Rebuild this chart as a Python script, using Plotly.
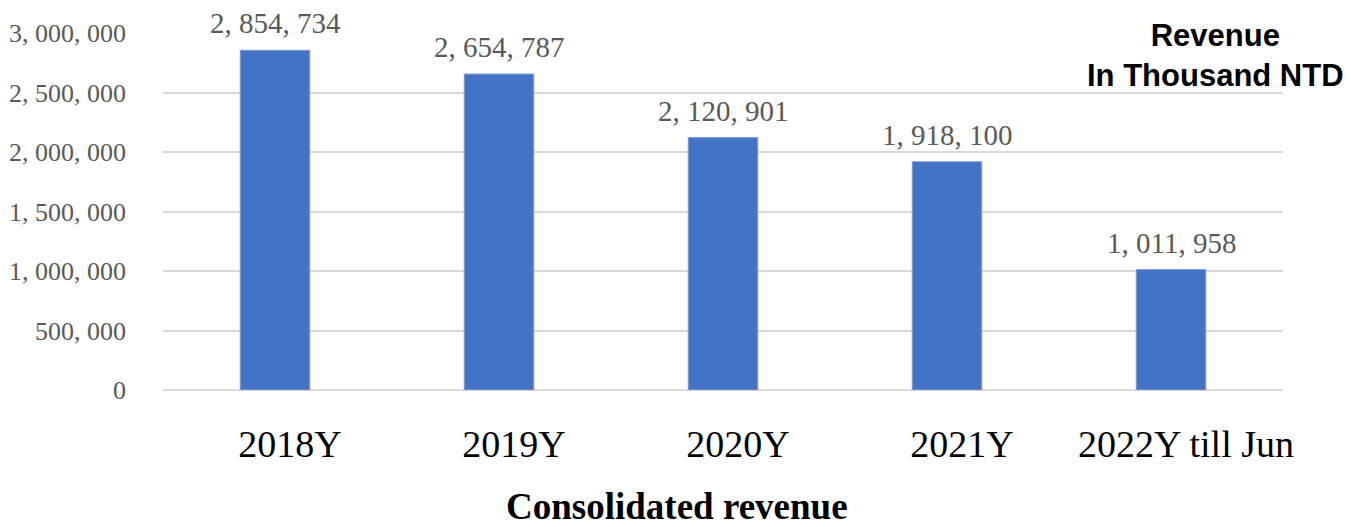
import plotly.graph_objects as go

categories = ["2018Y", "2019Y", "2020Y", "2021Y", "2022Y till Jun"]
revenue = [2854734, 2654787, 2120901, 1918100, 1011958]
tick_vals = [0, 500000, 1000000, 1500000, 2000000, 2500000, 3000000]

def fmt(v):
    return "{:,}".format(v).replace(",", ", ")

tick_text = [fmt(v) for v in tick_vals]
label_text = [fmt(v) for v in revenue]

# page body has an 8px margin; size the figure to fit the 1351x527 window
OFF = 8
W, H = 1351 - OFF, 527 - OFF
L, R, T, B = 155, 68, 25, 137
PW, PH = W - L - R, H - T - B

def px_x(page_x):
    return (page_x - OFF - L) / PW

def px_y(page_y):
    return (H - B - (page_y - OFF)) / PH

fig = go.Figure()
fig.add_trace(go.Bar(
    x=categories, y=revenue,
    marker=dict(color="#4472C4", line=dict(color="#7a9ad6", width=1)),
    width=0.31, hoverinfo="skip",
))

for c, v, t in zip(categories, revenue, label_text):
    fig.add_annotation(x=c, y=v, text=t, showarrow=False, yanchor="bottom",
                       yshift=9, font=dict(family="Liberation Serif", size=29, color="#595959"))

fig.add_annotation(xref="paper", yref="paper", x=px_x(677), y=px_y(506),
                   xanchor="center", yanchor="middle",
                   text="<b>Consolidated revenue</b>", showarrow=False,
                   font=dict(family="Liberation Serif", size=37, color="#000000"))
fig.add_annotation(xref="paper", yref="paper", x=px_x(1215), y=px_y(55),
                   xanchor="center", yanchor="middle",
                   text="<b>Revenue<br>In Thousand NTD</b>", showarrow=False,
                   align="center",
                   font=dict(family="Liberation Sans", size=31, color="#000000"))

fig.update_layout(
    width=W, height=H,
    margin=dict(l=L, r=R, t=T, b=B, autoexpand=False),
    paper_bgcolor="white", plot_bgcolor="white",
    showlegend=False,
    xaxis=dict(tickfont=dict(family="Liberation Serif", size=38, color="#000000"),
               showgrid=False, showline=False, ticks="", ticklabelstandoff=28,
               ticklabelshift=15, automargin=False),
    yaxis=dict(range=[0, 3000000], tickvals=tick_vals, ticktext=tick_text,
               tickfont=dict(family="Liberation Serif", size=26, color="#595959"),
               showgrid=True, gridcolor="#d9d9d9", gridwidth=1.5,
               zeroline=True, zerolinecolor="#d9d9d9", zerolinewidth=1.5,
               showline=False, ticks="", ticklabelstandoff=36, automargin=False),
)

fig.write_html("out.html")
